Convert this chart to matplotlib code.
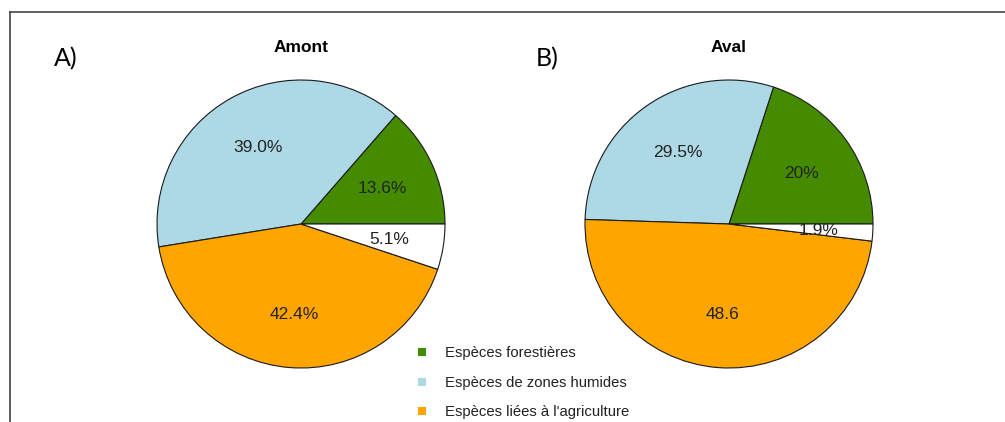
import matplotlib
matplotlib.use('Agg')
import matplotlib.pyplot as plt
from matplotlib.lines import Line2D
from matplotlib.patches import Rectangle

W, H = 1005, 422

categories = ['Espèces forestières', 'Espèces de zones humides',
              "Espèces liées à l'agriculture", 'Autres']
colors = ['#458B00', '#ADD8E6', '#FFA500', '#FFFFFF']

amont_values = [13.6, 39.0, 42.4, 5.1]
amont_labels = ['13.6%', '39.0%', '42.4%', '5.1%']
aval_values = [20.0, 29.5, 48.6, 1.9]
aval_labels = ['20%', '29.5%', '48.6', '1.9%']

plt.rcParams['font.family'] = ['Liberation Sans', 'DejaVu Sans']

fig = plt.figure(figsize=(W / 100, H / 100), dpi=100)


def px_axes(cx, cy, r):
    # axes square around a centre given in image pixels (y from top)
    return fig.add_axes([(cx - r) / W, (H - cy - r) / H, 2 * r / W, 2 * r / H])


def draw_pie(ax, values, labels):
    wedges, texts = ax.pie(values, colors=colors, labels=labels, labeldistance=0.62,
                           startangle=0, counterclock=True, radius=1.0,
                           wedgeprops=dict(edgecolor='#1a1a1a', linewidth=0.8),
                           textprops=dict(fontsize=12.5, color='#222222'))
    for t in texts:
        t.set_ha('center')
        t.set_va('center_baseline')
    ax.set_xlim(-1, 1)
    ax.set_ylim(-1, 1)
    ax.set_aspect('equal')
    ax.axis('off')


axA = px_axes(301, 224, 144)
draw_pie(axA, amont_values, amont_labels)
axB = px_axes(729, 224, 144)
draw_pie(axB, aval_values, aval_labels)

fig.text(301 / W, 1 - 47 / H, 'Amont', ha='center', va='center',
         fontsize=12.5, fontweight='bold')
fig.text(729 / W, 1 - 47 / H, 'Aval', ha='center', va='center',
         fontsize=12.5, fontweight='bold')

fig.text(66 / W, 1 - 59 / H, 'A)', ha='center', va='center',
         fontsize=18, family=['Lato', 'DejaVu Sans'])
fig.text(547 / W, 1 - 59 / H, 'B)', ha='center', va='center',
         fontsize=18, family=['Lato', 'DejaVu Sans'])

# legend (first three categories only)
leg_y = [352, 382, 411]
for name, col, y in zip(categories[:3], colors[:3], leg_y):
    fig.add_artist(Rectangle(((422 - 4) / W, (H - y - 4) / H), 8 / W, 8 / H,
                             transform=fig.transFigure, facecolor=col,
                             edgecolor='none'))
    fig.text(445 / W, 1 - (y + 1) / H, name, ha='left', va='center',
             fontsize=10.7, color='#222222')

# frame lines (top and left)
fig.add_artist(Line2D([10 / W, 1.0], [1 - 12 / H, 1 - 12 / H],
                      transform=fig.transFigure, color='#444444', linewidth=1.2))
fig.add_artist(Line2D([10 / W, 10 / W], [1 - 12 / H, 0.0],
                      transform=fig.transFigure, color='#444444', linewidth=1.2))

fig.savefig('out.png', dpi=100)
